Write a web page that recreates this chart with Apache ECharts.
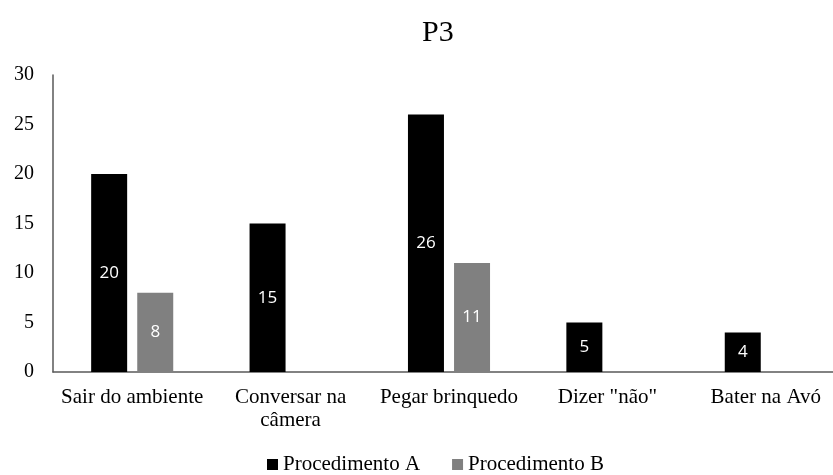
<!DOCTYPE html>
<html>
<head>
<meta charset="utf-8">
<script src="https://cdn.jsdelivr.net/npm/echarts@6/dist/echarts.min.js"></script>
<style>
  html, body { margin: 0; padding: 0; background: #fff; overflow: hidden; }
  #chart { width: 845px; height: 475px; }
</style>
</head>
<body>
<div id="chart"></div>
<script>
const categories = ['Sair do ambiente', 'Conversar na\ncâmera', 'Pegar brinquedo', 'Dizer "não"', 'Bater na Avó']
const procA = [20, 15, 26, 5, 4]
const procB = [8, '-', 11, '-', '-']
const yTicks = {min: 0, max: 30, interval: 5}

const chart = echarts.init(document.getElementById('chart'))

const labelStyle = {
  show: true,
  position: 'inside',
  color: '#fff',
  fontFamily: 'Open Sans',
  fontSize: 17
}

// the chart's text is all serif
const txt = (size) => ({
  fontFamily: 'Liberation Serif',
  fontSize: size,
  fontWeight: 'normal',
  color: '#000'
})

chart.setOption({
  animation: false,
  title: {
    text: 'P3',
    left: 417,
    top: 13,
    textStyle: txt(30)
  },
  legend: {
    top: 449,
    left: 262,
    itemWidth: 11,
    itemHeight: 11,
    itemGap: 32,
    icon: 'rect',
    textStyle: txt(21),
    data: ['Procedimento A', 'Procedimento B']
  },
  grid: {left: 53, right: 0, top: 75, bottom: 103},
  xAxis: {
    type: 'category',
    data: categories,
    axisLine: {lineStyle: {color: '#595959', width: 1.5}},
    axisTick: {show: false},
    axisLabel: Object.assign({interval: 0, margin: 14, lineHeight: 23}, txt(21))
  },
  yAxis: {
    type: 'value',
    min: yTicks.min,
    max: yTicks.max,
    interval: yTicks.interval,
    splitLine: {show: false},
    axisLine: {show: true, lineStyle: {color: '#595959', width: 1.5}},
    axisTick: {show: false},
    axisLabel: Object.assign({margin: 19}, txt(20))
  },
  series: [
    {
      name: 'Procedimento A',
      type: 'bar',
      data: procA,
      barWidth: 36,
      barGap: '28%',
      itemStyle: {color: '#000'},
      label: labelStyle
    },
    {
      name: 'Procedimento B',
      type: 'bar',
      data: procB,
      barWidth: 36,
      itemStyle: {color: '#808080'},
      label: labelStyle
    }
  ]
})
</script>
</body>
</html>
